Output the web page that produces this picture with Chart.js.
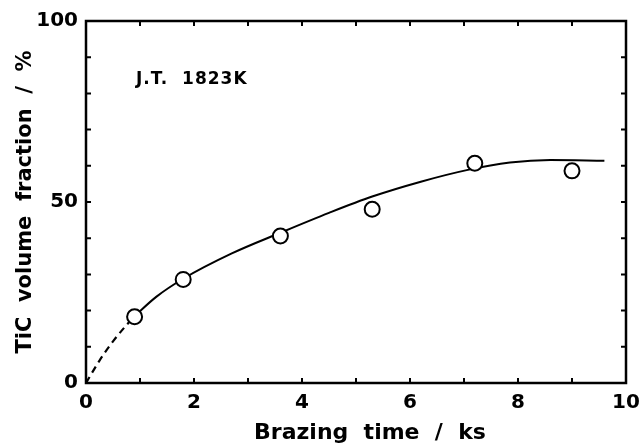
<!DOCTYPE html>
<html>
<head>
<meta charset="utf-8">
<script src="https://cdn.jsdelivr.net/npm/chart.js@4/dist/chart.umd.min.js"></script>
<style>
  html, body { margin: 0; padding: 0; background: #fff; }
  #wrap { width: 644px; height: 448px; }
</style>
</head>
<body>
<div id="wrap"><canvas id="c" width="644" height="448"></canvas></div>
<script>
// Measured points
const timeKs = [0.9, 1.8, 3.6, 5.3, 7.2, 9.0];
const ticFraction = [18.3, 28.6, 40.6, 48.0, 60.7, 58.6];
// Solid fitted curve
const curveX = [0.9, 1.3, 1.8, 2.7, 3.6, 4.5, 5.3, 6.2, 7.05, 7.85, 8.6, 9.6];
const curveY = [18.5, 23.8, 28.8, 35.8, 41.5, 47.0, 51.5, 55.6, 58.8, 60.9, 61.6, 61.4];
// Dashed extrapolation to origin
const dashX = [0, 0.25, 0.5, 0.75, 0.9];
const dashY = [0, 6.2, 11.5, 16.0, 18.5];
// Tick labels
const xLabels = [0, 2, 4, 6, 8, 10];
const yLabels = [0, 50, 100];
const xTitle = 'Brazing  time  /  ks';
const yTitle = 'TiC  volume  fraction  /  %';
const note = 'J.T.  1823K';

const FONT = 'DejaVu Sans';
const toPts = (xs, ys) => xs.map((x, i) => ({x: x, y: ys[i]}));

const framePlugin = {
  id: 'frame',
  afterDraw(chart) {
    const {ctx, chartArea: a, scales} = chart;
    const xs = scales.x, ys = scales.y;
    ctx.save();
    ctx.strokeStyle = '#000';
    ctx.lineWidth = 2.5;
    ctx.strokeRect(a.left, a.top, a.right - a.left, a.bottom - a.top);
    ctx.lineWidth = 2;
    const tl = 5;
    for (let v = 1; v < 10; v++) {
      const px = xs.getPixelForValue(v);
      ctx.beginPath();
      ctx.moveTo(px, a.bottom); ctx.lineTo(px, a.bottom - tl);
      ctx.moveTo(px, a.top); ctx.lineTo(px, a.top + tl);
      ctx.stroke();
    }
    for (let v = 10; v < 100; v += 10) {
      const py = ys.getPixelForValue(v);
      ctx.beginPath();
      ctx.moveTo(a.left, py); ctx.lineTo(a.left + tl, py);
      ctx.moveTo(a.right, py); ctx.lineTo(a.right - tl, py);
      ctx.stroke();
    }
    ctx.fillStyle = '#000';
    ctx.font = 'bold 22px "' + FONT + '"';
    ctx.textAlign = 'center';
    ctx.textBaseline = 'middle';
    ctx.fillText(xTitle, 370, 433);
    ctx.font = 'bold 17px "' + FONT + '"';
    ctx.letterSpacing = '1px';
    ctx.textAlign = 'left';
    ctx.textBaseline = 'alphabetic';
    ctx.fillText(note, 136, 84);
    ctx.restore();
  }
};

new Chart(document.getElementById('c'), {
  type: 'scatter',
  data: {
    datasets: [
      {
        label: 'measured',
        data: toPts(timeKs, ticFraction),
        order: 0,
        showLine: false,
        pointRadius: 7.5,
        pointHoverRadius: 7.5,
        pointBackgroundColor: '#fff',
        pointBorderColor: '#000',
        pointBorderWidth: 2
      },
      {
        label: 'curve',
        type: 'line',
        data: toPts(curveX, curveY),
        order: 1,
        borderColor: '#000',
        borderWidth: 2,
        pointRadius: 0,
        fill: false,
        cubicInterpolationMode: 'monotone'
      },
      {
        label: 'extrapolation',
        type: 'line',
        data: toPts(dashX, dashY),
        order: 1,
        borderColor: '#000',
        borderWidth: 2.2,
        borderDash: [7, 5],
        pointRadius: 0,
        fill: false,
        cubicInterpolationMode: 'monotone'
      }
    ]
  },
  options: {
    responsive: false,
    animation: false,
    events: [],
    layout: { padding: { top: 21, right: 18, left: 0, bottom: 0 } },
    plugins: { legend: { display: false }, tooltip: { enabled: false } },
    scales: {
      x: {
        type: 'linear', min: 0, max: 10,
        grid: { display: false },
        border: { display: false },
        afterFit(s) { s.height = 65; },
        ticks: {
          stepSize: 1, autoSkip: false, maxRotation: 0,
          color: '#000', padding: 0,
          font: { family: FONT, size: 20, weight: 'bold' },
          callback: v => xLabels.includes(v) ? String(v) : ''
        }
      },
      y: {
        type: 'linear', min: 0, max: 100,
        grid: { display: false },
        border: { display: false },
        afterFit(s) { s.width = 86; },
        title: {
          display: true, text: yTitle, color: '#000',
          padding: { top: 13, bottom: 0 },
          font: { family: FONT, size: 21, weight: 'bold' }
        },
        ticks: {
          stepSize: 10, autoSkip: false,
          color: '#000', padding: 0,
          font: { family: FONT, size: 20, weight: 'bold' },
          callback: v => yLabels.includes(v) ? String(v) : ''
        }
      }
    }
  },
  plugins: [framePlugin]
});
</script>
</body>
</html>
